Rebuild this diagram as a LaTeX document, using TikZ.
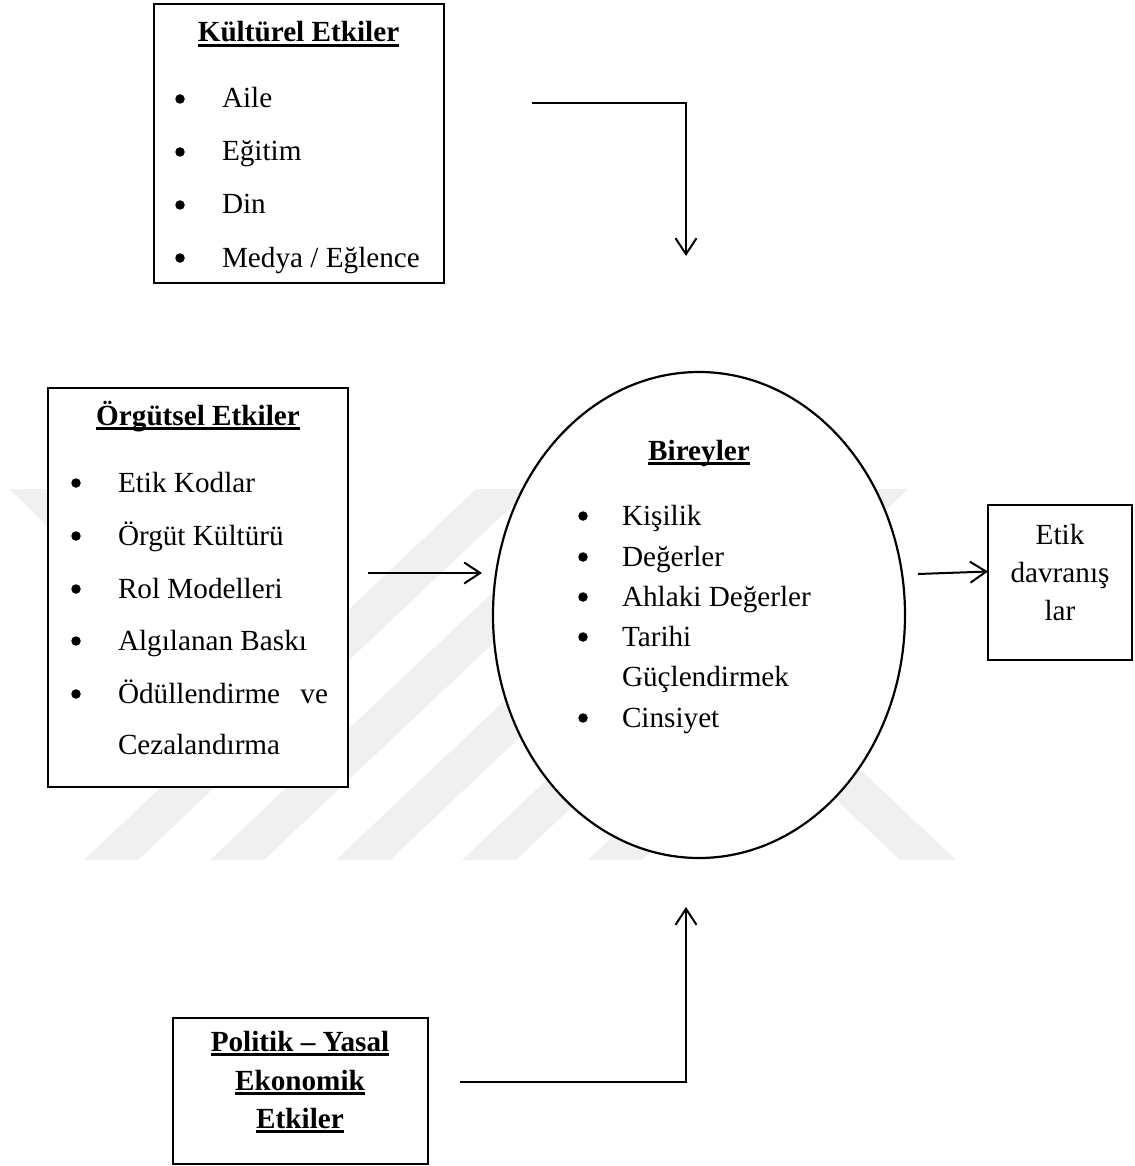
\documentclass[tikz,border=0pt]{standalone}
\usepackage{fontspec}
\setmainfont{Liberation Serif}
\usetikzlibrary{shapes.geometric,arrows.meta}
% underlined text with a rule just below the baseline
\newcommand\ultext[1]{\setbox0\hbox{#1}\rlap{\rule[-0.16em]{\wd0}{0.085em}}\box0}
\begin{document}
\begin{tikzpicture}[x=1pt,y=-1pt,
  every node/.style={inner sep=0pt, outer sep=0pt, font=\fontsize{29.2}{35}\selectfont},
  frame/.style={draw, line width=1.8pt, fill=white},
  item/.style={anchor=base west},
  dot/.style={circle, fill=black, minimum size=9.5pt},
  line/.style={anchor=base},
  head/.style={anchor=base, font=\fontsize{29.2}{35}\selectfont\bfseries},
  arr/.style={line width=2pt, -{Straight Barb[length=16pt,width=21pt,line width=2pt]}},
  emblem/.style={fill=black!6, draw=none}]
\useasboundingbox (0,0) rectangle (1134,1166);

% background emblem: slanted stripes
\fill[emblem] (10,489) -- (100,489) -- (100,579) -- cycle;
\foreach \b in {84,210,336,462}{
  \fill[emblem] (\b,860) -- ({\b+54},860) -- ({\b+54+392},489) -- ({\b+392},489) -- cycle;
}
\fill[emblem] (588,860) -- (642,860) -- (811,700) -- (757,700) -- cycle;
\fill[emblem] (900,860) -- (956,860) -- (681,600) -- (625,600) -- cycle;

% frames
\node[frame, minimum width=290pt, minimum height=279pt] (kul) at (299,143.5) {};
\node[frame, minimum width=300pt, minimum height=399pt] (org) at (198,587.5) {};
\node[frame, minimum width=144pt, minimum height=155pt] (etik) at (1060,582.5) {};
\node[frame, minimum width=255pt, minimum height=146pt] (pol) at (300.5,1091) {};
\node[draw, ellipse, fill=white, line width=2.2pt, minimum width=412pt, minimum height=486pt] (ell) at (699,615) {};

% cultural influences
\node[head] (kulT) at (298.5,42) {\ultext{Kültürel Etkiler}};
\node[dot] (kb1) at (180,99) {}; \node[item] (k1) at (222,108) {Aile};
\node[dot] (kb2) at (180,152) {}; \node[item] (k2) at (222,161) {Eğitim};
\node[dot] (kb3) at (180,205) {}; \node[item] (k3) at (222,214) {Din};
\node[dot] (kb4) at (180,258) {}; \node[item] (k4) at (222,267) {Medya / Eğlence};

% organisational influences
\node[head] (orgT) at (198,425) {\ultext{Örgütsel Etkiler}};
\node[dot] (ob1) at (76,483) {}; \node[item] (o1) at (118,492) {Etik Kodlar};
\node[dot] (ob2) at (76,536) {}; \node[item] (o2) at (118,545) {Örgüt Kültürü};
\node[dot] (ob3) at (76,589) {}; \node[item] (o3) at (118,598) {Rol Modelleri};
\node[dot] (ob4) at (76,641) {}; \node[item] (o4) at (118,650) {Algılanan Baskı};
\node[dot] (ob5) at (76,694) {}; \node[item] (o5) at (118,703) {\makebox[210pt][s]{Ödüllendirme\hfill ve}};
\node[item] (o6) at (118,754) {Cezalandırma};

% individuals
\node[head] (ellT) at (699,460) {\ultext{Bireyler}};
\node[dot] (eb1) at (583,516) {}; \node[item] (e1) at (622,525) {Kişilik};
\node[dot] (eb2) at (583,557) {}; \node[item] (e2) at (622,566) {Değerler};
\node[dot] (eb3) at (583,597) {}; \node[item] (e3) at (622,606) {Ahlaki Değerler};
\node[dot] (eb4) at (583,637) {}; \node[item] (e4) at (622,646) {Tarihi};
\node[item] (e5) at (622,686) {Güçlendirmek};
\node[dot] (eb6) at (583,718) {}; \node[item] (e6) at (622,727) {Cinsiyet};

% outcome
\node[line] (t1) at (1060,544) {Etik};
\node[line] (t2) at (1060,582) {davranış};
\node[line] (t3) at (1060,620) {lar};

% political, legal, economic influences
\node[head] (p1) at (300,1051) {\ultext{Politik – Yasal}};
\node[head] (p2) at (300,1090) {\ultext{Ekonomik}};
\node[head] (p3) at (300,1128) {\ultext{Etkiler}};

% connectors
\coordinate (a1s) at (532,103);
\coordinate (a1e) at (686,256);
\draw[arr] (a1s) -| (a1e);
\coordinate (a2s) at (368,573);
\coordinate (a2e) at (482,573);
\draw[arr] (a2s) -- (a2e);
\coordinate (a3s) at (918,574);
\draw[arr] (a3s) -- ([yshift=11pt]etik.west);
\coordinate (a4s) at (460,1082);
\coordinate (a4e) at (686,907);
\draw[arr] (a4s) -| (a4e);
\end{tikzpicture}
\end{document}
